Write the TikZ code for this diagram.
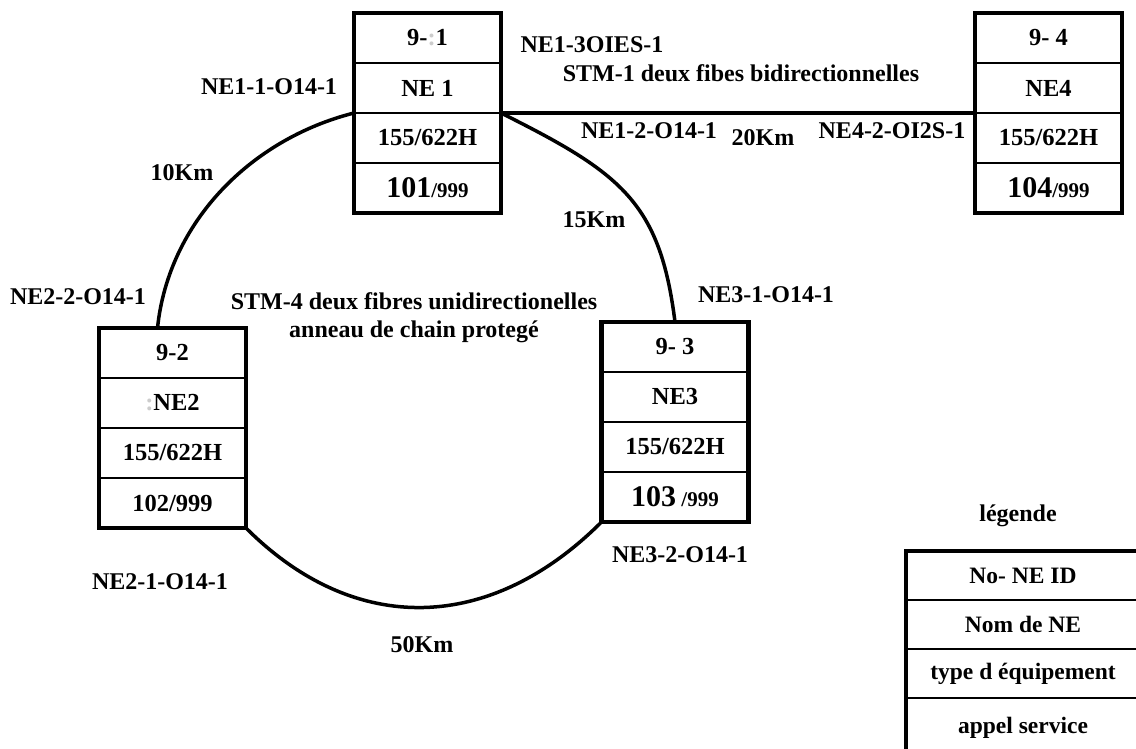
\documentclass[tikz,border=0pt]{standalone}
\usepackage{fontspec}
\setmainfont{Liberation Serif}
\usetikzlibrary{positioning,calc}

\tikzset{
    cell/.style={draw, line width=2.5pt, minimum width=147pt, minimum height=50pt, inner sep=0pt, outer sep=0pt, font=\bfseries\fontsize{24.5}{28}\selectfont},
    legcell/.style={cell, minimum width=234pt, minimum height=49pt, font=\bfseries\fontsize{23.5}{28}\selectfont},
    frame/.style={line width=4.5pt},
    fibre/.style={line width=3.5pt},
    lbl/.style={inner sep=0pt}
}

\begin{document}
\begin{tikzpicture}[x=1pt, y=-1pt, font=\bfseries\fontsize{24}{28}\selectfont]
    \useasboundingbox (0,0) rectangle (1136,749);

    % NE1
    \node[cell] (ne1a) at (427.5,38) {9-\textcolor{gray!40}{:}1};
    \node[cell, below=0pt of ne1a] (ne1b) {NE 1};
    \node[cell, below=0pt of ne1b] (ne1c) {155/622H};
    \node[cell, below=0pt of ne1c] (ne1d) {{\fontsize{30}{32}\selectfont 101}{\fontsize{21}{24}\selectfont /999}};
    \draw[frame] (ne1a.north west) rectangle (ne1d.south east);

    % NE4
    \node[cell] (ne4a) at (1048.5,38) {9- 4};
    \node[cell, below=0pt of ne4a] (ne4b) {NE4};
    \node[cell, below=0pt of ne4b] (ne4c) {155/622H};
    \node[cell, below=0pt of ne4c] (ne4d) {{\fontsize{30}{32}\selectfont 104}{\fontsize{21}{24}\selectfont /999}};
    \draw[frame] (ne4a.north west) rectangle (ne4d.south east);

    % NE2
    \node[cell] (ne2a) at (172.5,353) {9-2};
    \node[cell, below=0pt of ne2a] (ne2b) {\textcolor{gray!40}{:}NE2};
    \node[cell, below=0pt of ne2b] (ne2c) {155/622H};
    \node[cell, below=0pt of ne2c] (ne2d) {102/999};
    \draw[frame] (ne2a.north west) rectangle (ne2d.south east);

    % NE3
    \node[cell] (ne3a) at (675,347) {9- 3};
    \node[cell, below=0pt of ne3a] (ne3b) {NE3};
    \node[cell, below=0pt of ne3b] (ne3c) {155/622H};
    \node[cell, below=0pt of ne3c] (ne3d) {{\fontsize{30}{32}\selectfont 103}{\fontsize{21}{24}\selectfont\ /999}};
    \draw[frame] (ne3a.north west) rectangle (ne3d.south east);

    % STM-1 link NE1 -- NE4
    \draw[fibre] (ne1b.south east) -- (ne4b.south west);

    % STM-4 ring
    \draw[fibre] (ne1b.south west) .. controls +(-103,26) and +(11,-106) .. ($(ne2a.north)+(-15,0)$);
    \draw[fibre] (ne1b.south east) .. controls +(120,60) and +(-15,-120) .. (ne3a.north);
    \draw[fibre] (ne2d.south east) .. controls +(110,110) and +(-110,110) .. (ne3d.south west);

    % Port and distance labels
    \node[lbl] (p111) at (269,87) {NE1-1-O14-1};
    \node[lbl] (p13) at (592,45) {NE1-3OIES-1};
    \node[lbl] (stm1) at (741,73) {STM-1 deux fibes bidirectionnelles};
    \node[lbl] (p121) at (649,131) {NE1-2-O14-1};
    \node[lbl] (d20) at (763,138) {20Km};
    \node[lbl] (p42) at (892,131) {NE4-2-OI2S-1};
    \node[lbl] (d10) at (182,173) {10Km};
    \node[lbl] (d15) at (594,220) {15Km};
    \node[lbl] (p22) at (78,297) {NE2-2-O14-1};
    \node[lbl] (p31) at (766,295) {NE3-1-O14-1};
    \node[lbl, align=center] (stm4) at (414,318) {STM-4 deux fibres unidirectionelles\\anneau de chain protegé};
    \node[lbl] (p21) at (160,582) {NE2-1-O14-1};
    \node[lbl] (p32) at (680,555) {NE3-2-O14-1};
    \node[lbl] (d50) at (422,645) {50Km};

    % Legend
    \node[lbl] (leg) at (1018,516) {légende};
    \node[legcell] (lega) at (1023,575.5) {No- NE ID};
    \node[legcell, below=0pt of lega] (legb) {Nom de NE};
    \node[legcell, below=0pt of legb] (legc) {type d équipement};
    \node[legcell, minimum height=60pt, below=0pt of legc] (legd) {appel service};
    \draw[frame] (lega.north west) rectangle (legd.south east);
\end{tikzpicture}
\end{document}
